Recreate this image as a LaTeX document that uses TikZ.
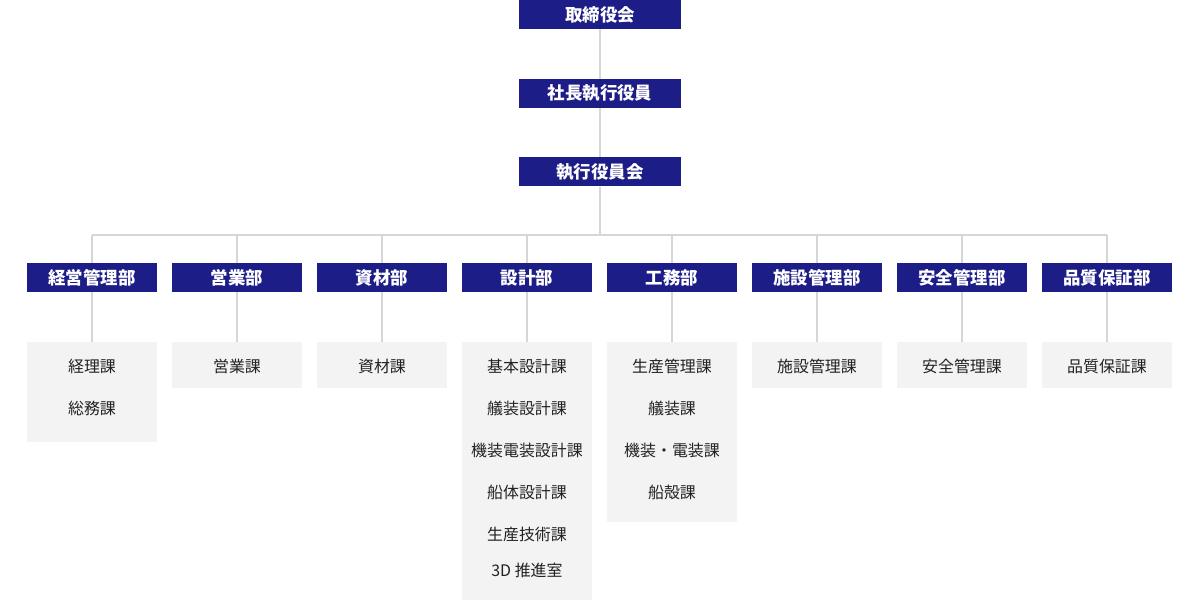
\documentclass[tikz,border=0pt]{standalone}
\usepackage{fontspec}
\newfontfamily\jp{Noto Sans CJK JP}
\definecolor{navy}{HTML}{1D1D87}
\definecolor{linegray}{HTML}{D6D6D6}
\definecolor{subgray}{HTML}{F3F3F3}
\definecolor{subtext}{HTML}{222222}
\tikzset{
  head/.style={fill=navy, text=white, inner sep=0pt, minimum width=162bp, minimum height=29bp, font=\jp\bfseries\fontsize{17.5}{19}\selectfont},
  dept/.style={fill=navy, text=white, inner sep=0pt, minimum width=130bp, minimum height=29bp, font=\jp\bfseries\fontsize{17.5}{19}\selectfont},
  subbox/.style={fill=subgray, inner sep=0pt, minimum width=130bp, anchor=north},
  sub/.style={text=subtext, inner sep=0pt, font=\jp\fontsize{16}{18}\selectfont},
  conn/.style={draw=linegray, line width=2bp}
}
\begin{document}
\begin{tikzpicture}[x=1bp,y=-1bp]
\useasboundingbox (0,0) rectangle (1200,600);
\node[head] (h1) at (600,14.5) {取締役会};
\node[head] (h2) at (600,93.5) {社長執行役員};
\node[head] (h3) at (600,172) {執行役員会};
\coordinate (bus) at (600,235);
\coordinate (busL) at (92,235);
\coordinate (busR) at (1107,235);
\foreach \i/\x/\t in {1/92/経営管理部,2/237/営業部,3/382/資材部,4/527/設計部,5/672/工務部,6/817/施設管理部,7/962/安全管理部,8/1107/品質保証部}{
  \node[dept] (d\i) at (\x,277.5) {\t};
}
\node[subbox, minimum height=100bp] (s1) at (92,342) {};
\node[subbox, minimum height=46bp] (s2) at (237,342) {};
\node[subbox, minimum height=46bp] (s3) at (382,342) {};
\node[subbox, minimum height=258bp] (s4) at (527,342) {};
\node[subbox, minimum height=180bp] (s5) at (672,342) {};
\node[subbox, minimum height=46bp] (s6) at (817,342) {};
\node[subbox, minimum height=46bp] (s7) at (962,342) {};
\node[subbox, minimum height=46bp] (s8) at (1107,342) {};
% text nodes
\node[sub] (t11) at (92,366) {経理課};
\node[sub] (t12) at (92,408) {総務課};
\node[sub] (t21) at (237,366) {営業課};
\node[sub] (t31) at (382,366) {資材課};
\node[sub] (t41) at (527,366) {基本設計課};
\node[sub] (t42) at (527,408) {艤装設計課};
\node[sub] (t43) at (527,450) {機装電装設計課};
\node[sub] (t44) at (527,492) {船体設計課};
\node[sub] (t45) at (527,534) {生産技術課};
\node[sub] (t46) at (527,570) {3D 推進室};
\node[sub] (t51) at (672,366) {生産管理課};
\node[sub] (t52) at (672,408) {艤装課};
\node[sub] (t53) at (672,450) {機装・電装課};
\node[sub] (t54) at (672,492) {船殻課};
\node[sub] (t61) at (817,366) {施設管理課};
\node[sub] (t71) at (962,366) {安全管理課};
\node[sub] (t81) at (1107,366) {品質保証課};
% connectors
\draw[conn] (h1.south) -- (h2.north);
\draw[conn] (h2.south) -- (h3.north);
\draw[conn] (h3.south) -- (bus);
\draw[conn] (busL) -- (busR);
\foreach \i in {1,...,8}{
  \draw[conn] (d\i.north |- bus) -- (d\i.north);
  \draw[conn] (d\i.south) -- (s\i.north);
}
\end{tikzpicture}
\end{document}
